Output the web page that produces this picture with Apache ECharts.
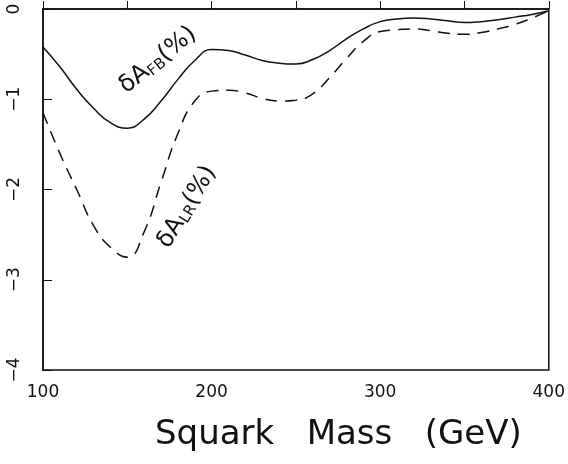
<!DOCTYPE html>
<html>
<head>
<meta charset="utf-8">
<script src="https://cdn.jsdelivr.net/npm/echarts@6/dist/echarts.min.js"></script>
<style>
  html, body { margin: 0; padding: 0; background: #fff; }
  #chart { width: 568px; height: 464px; }
</style>
</head>
<body>
<div id="chart"></div>
<script>
// squark mass (GeV)
var mass = [100,110,120,130,140,150,160,170,180,190,200,210,220,230,240,250,260,270,280,290,300,310,320,330,340,350,360,370,380,390,400];
// delta A_FB (%) - solid
var dAfb = [-0.42,-0.64,-0.89,-1.10,-1.26,-1.32,-1.22,-1.02,-0.78,-0.57,-0.45,-0.46,-0.51,-0.57,-0.60,-0.61,-0.56,-0.46,-0.33,-0.22,-0.14,-0.11,-0.10,-0.11,-0.13,-0.15,-0.14,-0.12,-0.09,-0.06,-0.02];
// delta A_LR (%) - dashed
var dAlr = [-1.15,-1.60,-2.00,-2.40,-2.64,-2.75,-2.47,-1.92,-1.38,-1.02,-0.91,-0.90,-0.93,-0.99,-1.02,-1.01,-0.94,-0.76,-0.55,-0.36,-0.25,-0.23,-0.22,-0.24,-0.27,-0.28,-0.26,-0.22,-0.17,-0.10,-0.02];

var fnt = 'DejaVu Sans';
var chart = echarts.init(document.getElementById('chart'));

function pairs(xs, ys) {
  var out = [];
  for (var i = 0; i < xs.length; i++) out.push([xs[i], ys[i]]);
  return out;
}

chart.setOption({
  animation: false,
  backgroundColor: '#fff',
  title: {
    text: 'Squark   Mass   (GeV)',
    left: 150, top: 413,
    textStyle: { fontFamily: fnt, fontWeight: 'normal', fontSize: 34, color: '#111' }
  },
  grid: { left: 43, right: 17, top: 9, bottom: 94, show: true, borderColor: '#111', borderWidth: 1.5 },
  xAxis: {
    type: 'value', min: 100, max: 400, interval: 100,
    axisLine: { lineStyle: { color: '#111', width: 1.5 } },
    axisTick: { inside: true, length: 8, lineStyle: { color: '#111' } },
    minorTick: { show: true, splitNumber: 2, length: 8, lineStyle: { color: '#111' } },
    splitLine: { show: false },
    axisLabel: { fontFamily: fnt, fontSize: 17, color: '#111', margin: 14 }
  },
  yAxis: {
    type: 'value', min: -4, max: 0, interval: 1,
    axisLine: { lineStyle: { color: '#111', width: 1.5 } },
    axisTick: { inside: true, length: 9, lineStyle: { color: '#111' } },
    splitLine: { show: false },
    axisLabel: {
      fontFamily: fnt, fontSize: 17, color: '#111', rotate: 90, margin: 20,
      formatter: function (v) { return v < 0 ? '\u2212' + Math.abs(v) : String(v); }
    }
  },
  graphic: [
    {
      type: 'text', x: 158, y: 60, rotation: 0.68,
      style: {
        text: '{d|δA}{s|FB}{d|(%)}', align: 'center', verticalAlign: 'middle',
        rich: {
          d: { fontFamily: fnt, fontSize: 24, fill: '#111' },
          s: { fontFamily: fnt, fontSize: 15, fill: '#111', padding: [10, 0, 0, 0] }
        }
      }
    },
    {
      type: 'text', x: 187, y: 207, rotation: 1.02,
      style: {
        text: '{d|δA}{s|LR}{d|(%)}', align: 'center', verticalAlign: 'middle',
        rich: {
          d: { fontFamily: fnt, fontSize: 24, fill: '#111' },
          s: { fontFamily: fnt, fontSize: 15, fill: '#111', padding: [10, 0, 0, 0] }
        }
      }
    }
  ],
  series: [
    {
      type: 'line', data: pairs(mass, dAfb), smooth: 0.5, showSymbol: false,
      lineStyle: { color: '#111', width: 1.5, type: 'solid' }
    },
    {
      type: 'line', data: pairs(mass, dAlr), smooth: 0.5, showSymbol: false,
      lineStyle: { color: '#111', width: 1.5, type: [12, 8] }
    }
  ]
});
</script>
</body>
</html>
